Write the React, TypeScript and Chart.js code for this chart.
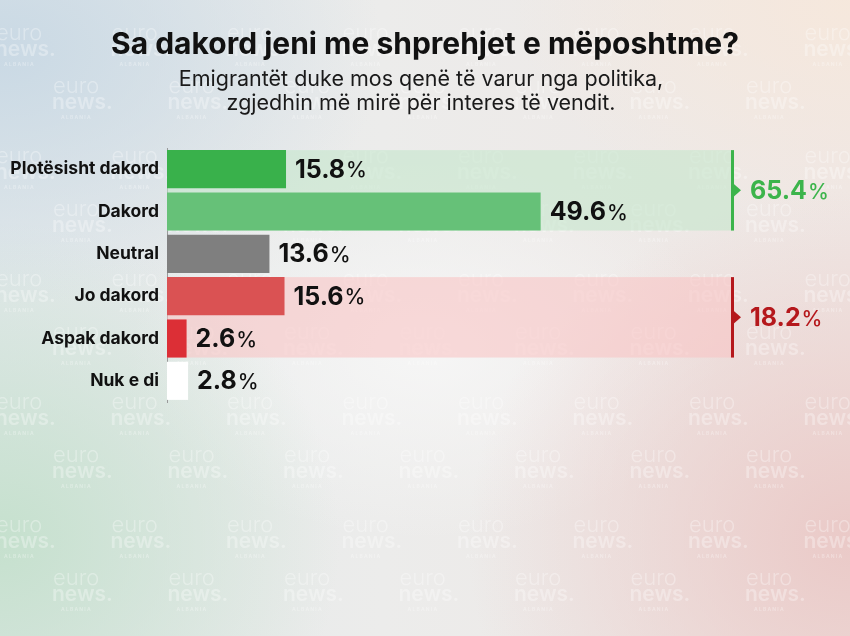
import React, { useEffect, useRef } from "react";
import { Chart, registerables } from "chart.js";

Chart.register(...registerables);

const TITLE = "Sa dakord jeni me shprehjet e mëposhtme?";
const SUBTITLE = [
  "Emigrantët duke mos qenë të varur nga politika,",
  "zgjedhin më mirë për interes të vendit.",
];
const CATEGORIES = [
  "Plotësisht dakord",
  "Dakord",
  "Neutral",
  "Jo dakord",
  "Aspak dakord",
  "Nuk e di",
];
const VALUES = [15.8, 49.6, 13.6, 15.6, 2.6, 2.8];
const BAR_COLORS = ["#39b14b", "#66c178", "#7f7f7f", "#da5253", "#dc2f36", "#ffffff"];
const GROUP_TOTALS = [65.4, 18.2];
const GROUP_START = [0, 3];
const GROUP_END = [1, 4];
const GROUP_COLORS = ["#3cb44b", "#b5181c"];
const GROUP_BANDS = ["rgba(196, 230, 204, 0.6)", "rgba(248, 196, 196, 0.6)"];
const X_MAX = 75;
const FONT = "Inter, 'Noto Sans', sans-serif";

function drawWatermark(ctx: CanvasRenderingContext2D, w: number, h: number) {
  ctx.save();
  ctx.fillStyle = "rgba(255,255,255,0.32)";
  ctx.textAlign = "left";
  ctx.textBaseline = "middle";
  const rowsA = [33, 156, 279, 402, 525];
  const rowsB = [86, 209, 332, 455, 578];
  const put = (x: number, y: number) => {
    ctx.font = `300 22px ${FONT}`;
    ctx.fillText("euro", x, y);
    ctx.font = `600 21px ${FONT}`;
    ctx.fillText("news.", x - 1, y + 17);
    ctx.font = `700 5px ${FONT}`;
    ctx.fillText("A L B A N I A", x + 8, y + 31);
  };
  for (const y of rowsA) for (let x = -4; x < w; x += 115.5) put(x, y);
  for (const y of rowsB) for (let x = 53; x < w; x += 115.5) put(x, y);
  ctx.restore();
}

function drawValue(
  ctx: CanvasRenderingContext2D,
  num: string,
  x: number,
  y: number,
  color: string
) {
  ctx.save();
  ctx.textBaseline = "middle";
  ctx.textAlign = "left";
  ctx.fillStyle = color;
  ctx.font = `700 25px ${FONT}`;
  ctx.fillText(num, x, y + 1);
  const w = ctx.measureText(num).width;
  ctx.font = `500 21px ${FONT}`;
  ctx.fillText("%", x + w + 1, y + 2);
  ctx.restore();
}

const overlayPlugin = {
  id: "overlay",
  beforeDraw(chart: any) {
    drawWatermark(chart.ctx, chart.width, chart.height);
  },
  beforeDatasetsDraw(chart: any) {
    const ctx = chart.ctx;
    const meta = chart.getDatasetMeta(0);
    const area = chart.chartArea;
    GROUP_START.forEach((s, g) => {
      const a = meta.data[s];
      const b = meta.data[GROUP_END[g]];
      const top = a.y - a.height / 2;
      const bottom = b.y + b.height / 2;
      ctx.save();
      ctx.fillStyle = GROUP_BANDS[g];
      ctx.fillRect(area.left, top, area.right - area.left, bottom - top);
      ctx.restore();
    });
  },
  afterDatasetsDraw(chart: any) {
    const ctx = chart.ctx;
    const meta = chart.getDatasetMeta(0);
    const area = chart.chartArea;
    meta.data.forEach((bar: any, i: number) => {
      drawValue(ctx, VALUES[i].toFixed(1), bar.x + 9, bar.y, "#111111");
    });
    GROUP_START.forEach((s, g) => {
      const a = meta.data[s];
      const b = meta.data[GROUP_END[g]];
      const top = a.y - a.height / 2;
      const bottom = b.y + b.height / 2;
      const mid = (top + bottom) / 2;
      const x = area.right;
      ctx.save();
      ctx.fillStyle = GROUP_COLORS[g];
      ctx.fillRect(x - 1, top, 3, bottom - top);
      ctx.beginPath();
      ctx.moveTo(x + 1, mid - 7);
      ctx.lineTo(x + 9, mid);
      ctx.lineTo(x + 1, mid + 7);
      ctx.closePath();
      ctx.fill();
      ctx.restore();
      drawValue(ctx, GROUP_TOTALS[g].toFixed(1), x + 18, mid, GROUP_COLORS[g]);
    });
  },
  afterDraw(chart: any) {
    const ctx = chart.ctx;
    const cx = chart.width / 2;
    ctx.save();
    ctx.fillStyle = "#111111";
    ctx.textAlign = "center";
    ctx.textBaseline = "middle";
    ctx.font = `700 30px ${FONT}`;
    ctx.fillText(TITLE, cx, 45);
    ctx.font = `400 21.5px ${FONT}`;
    ctx.fillStyle = "#1a1a1a";
    ctx.fillText(SUBTITLE[0], cx - 4, 80);
    ctx.fillText(SUBTITLE[1], cx - 4, 104);
    ctx.restore();
  },
};

export default function App() {
  const ref = useRef<HTMLCanvasElement | null>(null);
  useEffect(() => {
    if (!ref.current) return;
    const chart = new Chart(ref.current, {
      type: "bar",
      data: {
        labels: CATEGORIES,
        datasets: [
          {
            data: VALUES,
            backgroundColor: BAR_COLORS,
            borderWidth: 0,
            categoryPercentage: 1,
            barPercentage: 0.9,
          },
        ],
      },
      options: {
        indexAxis: "y",
        animation: false,
        responsive: false,
        devicePixelRatio: 1,
        layout: { padding: { top: 148, bottom: 234, left: 0, right: 118 } },
        plugins: {
          legend: { display: false },
          tooltip: { enabled: false },
          title: { display: false },
        },
        scales: {
          x: { display: false, min: 0, max: X_MAX },
          y: {
            afterFit(scale: any) {
              scale.width = 167;
            },
            grid: { display: false, drawTicks: false },
            border: { display: true, color: "#9a9a9a", width: 1 },
            ticks: {
              padding: 8,
              color: "#111111",
              font: { family: FONT, size: 17.5, weight: "700" },
            },
          },
        },
      },
      plugins: [overlayPlugin],
    });
    return () => chart.destroy();
  }, []);

  const bg = [
    "radial-gradient(ellipse 45% 40% at 0% 8%, rgba(200,216,228,0.95), rgba(200,216,228,0) 100%)",
    "radial-gradient(ellipse 40% 50% at 0% 85%, rgba(196,224,204,0.95), rgba(196,224,204,0) 100%)",
    "radial-gradient(ellipse 45% 55% at 100% 85%, rgba(234,200,198,0.95), rgba(234,200,198,0) 100%)",
    "radial-gradient(ellipse 40% 35% at 100% 0%, rgba(246,232,220,0.95), rgba(246,232,220,0) 100%)",
    "radial-gradient(ellipse 35% 30% at 50% 55%, rgba(247,247,247,0.9), rgba(247,247,247,0) 100%)",
    "linear-gradient(to right, #e2e8ea 0%, #ececeb 45%, #efe7e4 100%)",
  ].join(",");

  return (
    <div
      style={{
        position: "fixed",
        left: 0,
        top: 0,
        width: 850,
        height: 636,
        background: bg,
      }}
    >
      <canvas ref={ref} width={850} height={636} style={{ display: "block" }} />
    </div>
  );
}
